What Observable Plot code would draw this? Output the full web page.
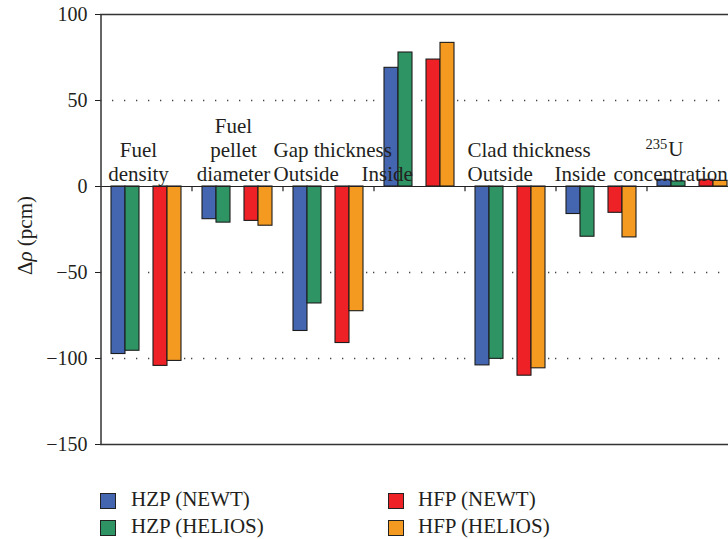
<!DOCTYPE html>
<html><head><meta charset="utf-8">
<script src="https://cdn.jsdelivr.net/npm/d3@7"></script>
<script src="https://cdn.jsdelivr.net/npm/@observablehq/plot@0.6"></script>
<style>
html,body{margin:0;padding:0;background:#fff;overflow:hidden;width:728px;height:539px;}
#chart{position:absolute;left:0;top:0;}
.leg{position:absolute;font-family:"Liberation Serif",serif;font-size:21px;line-height:21px;color:#231f20;white-space:nowrap;}
.sw{position:absolute;width:14px;height:14px;border:1px solid #222;}
</style></head><body>
<div id="chart"></div>
<div id="legend"></div>
<script>
// ---- data ----
const groups = ["Fuel density", "Fuel pellet diameter", "Gap thickness Outside", "Gap thickness Inside",
  "Clad thickness Outside", "Clad thickness Inside", "235U concentration"];
const groupLabels = ["Fuel\ndensity", "Fuel\npellet\ndiameter", "Gap thickness\nOutside", "Inside",
  "Clad thickness\nOutside", "Inside", "concentration"];
const isotopeLabel = "235U";
const series = ["HZP (NEWT)", "HZP (HELIOS)", "HFP (NEWT)", "HFP (HELIOS)"];
const hzpNewt   = [-97.4, -19.0, -84.0, 69.0, -104.0, -16.0, 3.9];
const hzpHelios = [-95.5, -21.0, -68.0, 77.9, -100.2, -29.2, 2.9];
const hfpNewt   = [-104.3, -20.0, -91.0, 73.8, -110.0, -15.3, 3.9];
const hfpHelios = [-101.4, -22.8, -72.5, 83.5, -105.7, -29.6, 3.3];
const yTicks = [-150, -100, -50, 0, 50, 100];
const gridValues = [-100, -50, 50];
const yLabel = "Δρ (pcm)";

// ---- styling ----
const colors = ["#4466b0", "#2e9464", "#ee2226", "#f59a20"];
const slots = [series[0], series[1], "·gap·", series[2], series[3]];
const FONT = "Liberation Serif, Times New Roman, serif";
const LABEL_SIZE = 21;

const values = [hzpNewt, hzpHelios, hfpNewt, hfpHelios];
const rows = groups.flatMap((g, i) => series.map((s, j) => ({group: g, series: s, value: values[j][i]})));

// group label placement (anchor, horizontal offset from facet centre)
const labelLayout = [
  {anchor: "middle", dx: -7.5},
  {anchor: "middle", dx: -3.5},
  {anchor: "start", dx: -54.5},
  {anchor: "start", dx: -57.5},
  {anchor: "start", dx: -42.5},
  {anchor: "start", dx: -46.5},
  {anchor: "start", dx: -78.5}
];
const labelMarks = groupLabels.map((t, i) => Plot.text([{group: groups[i], text: t}], {
  fx: "group", text: "text", y: 0, textAnchor: labelLayout[i].anchor, lineAnchor: "bottom",
  dx: labelLayout[i].dx, dy: -6, fontSize: LABEL_SIZE, lineHeight: 1.12, fill: "#231f20"
}));
labelMarks.push(Plot.text([{group: groups[6], text: isotopeLabel}], {
  fx: "group", text: "text", y: 0, textAnchor: "start", lineAnchor: "bottom",
  dx: -46.5, dy: -31, fontSize: LABEL_SIZE, fill: "#231f20"
}));

const halfSlot = 0.75 * 14 + 7; // centre of first slot to facet edge

const plot = Plot.plot({
  width: 728, height: 460,
  marginTop: 14, marginBottom: 16, marginLeft: 100, marginRight: -9,
  style: {fontFamily: FONT, fontSize: "20px", color: "#231f20", background: "white"},
  fx: {domain: groups, padding: 0, axis: null, label: null},
  x: {domain: slots, paddingInner: 0, paddingOuter: 0.75, axis: null, label: null},
  y: {domain: [-150, 100], ticks: yTicks, tickSize: 5, tickPadding: 8, label: null},
  color: {domain: series, range: colors},
  marks: [
    Plot.ruleY(gridValues, {stroke: "#444", strokeWidth: 1.3, strokeDasharray: "1.3,10.7"}),
    Plot.barY(rows, {fx: "group", x: "series", y1: 0, y2: "value", fill: "series", stroke: "#1c1c1c", strokeWidth: 1.1}),
    Plot.ruleY([0], {stroke: "#222", strokeWidth: 1.2}),
    Plot.ruleY([100, -150], {stroke: "#333", strokeWidth: 1.5}),
    Plot.ruleX(groups.slice(1), {fx: d => d, x: () => slots[0], dx: -halfSlot, y1: 0, y2: -3, stroke: "#222", strokeWidth: 1.2}),
    Plot.ruleX([groups[0]], {fx: d => d, x: () => slots[0], dx: -halfSlot, y1: -150, y2: 100, stroke: "#333", strokeWidth: 1.5}),
    ...labelMarks,
    Plot.text([{group: groups[0], text: yLabel}], {fx: "group", text: "text", frameAnchor: "left", textAnchor: "middle",
      rotate: -90, dx: -75, dy: 6, fontSize: 21, fill: "#231f20"})
  ]
});
document.getElementById("chart").appendChild(plot);

// rich text: italic rho, superscript mass number
plot.querySelectorAll("text").forEach(t => {
  if (t.textContent === yLabel) {
    t.innerHTML = 'Δ<tspan font-style="italic">ρ</tspan> (pcm)';
  } else if (t.textContent === isotopeLabel) {
    t.innerHTML = '<tspan font-size="14.5" dy="-7">235</tspan><tspan dy="7" dx="1">U</tspan>';
  }
});

// legend
const legend = document.getElementById("legend");
const legPos = [[100, 131, 493, 489.4], [100, 131, 519.5, 515.9], [388, 418, 493, 489.4], [388, 418, 519.5, 515.9]];
series.forEach((s, i) => {
  const [sx, tx, sy, ty] = legPos[i];
  const sw = document.createElement("span");
  sw.className = "sw"; sw.style.left = sx + "px"; sw.style.top = sy + "px"; sw.style.background = colors[i];
  const lab = document.createElement("span");
  lab.className = "leg"; lab.style.left = tx + "px"; lab.style.top = ty + "px"; lab.textContent = s;
  legend.appendChild(sw); legend.appendChild(lab);
});
</script></body></html>
